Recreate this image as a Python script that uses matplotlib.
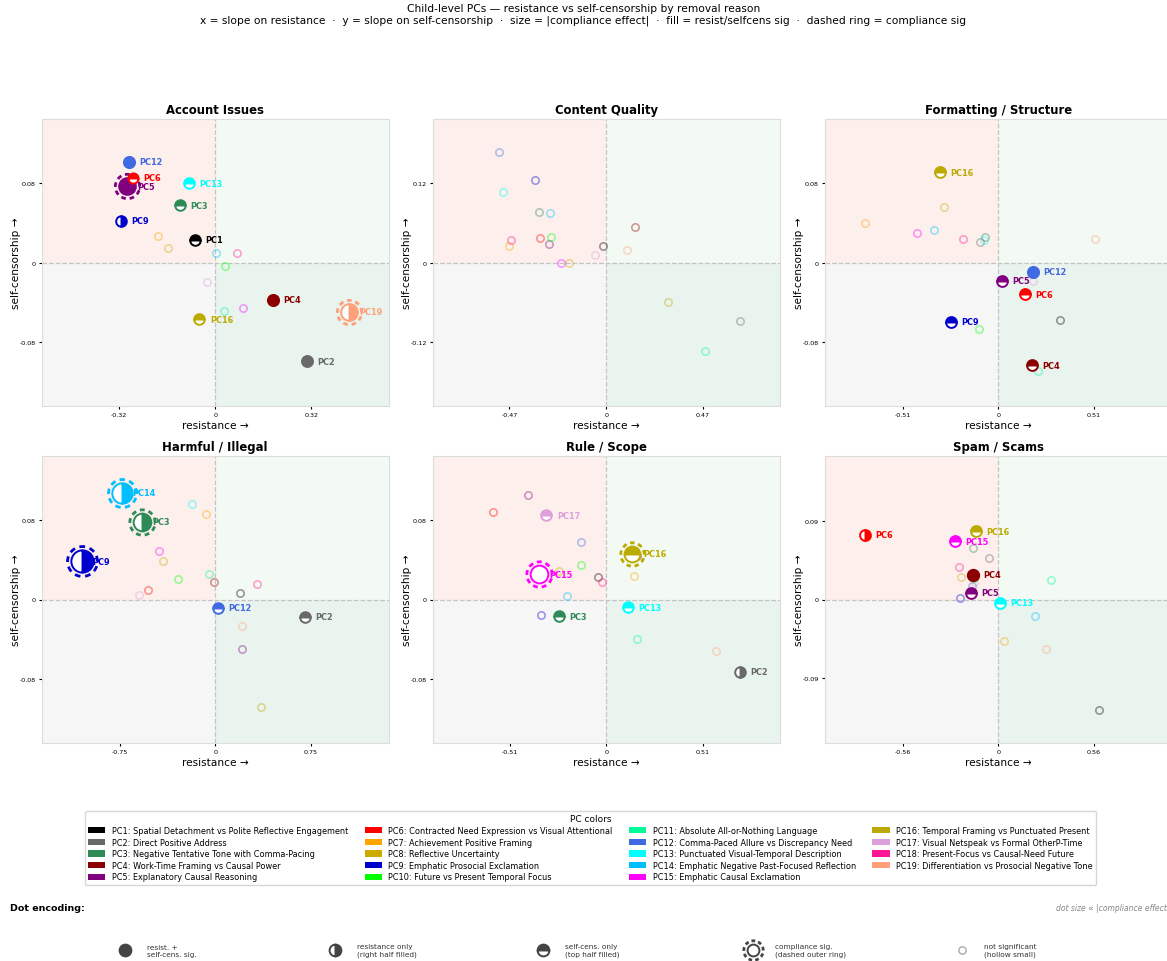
import numpy as np
import matplotlib
matplotlib.use("Agg")
import matplotlib.pyplot as plt
from matplotlib.path import Path
from matplotlib.patches import Patch

# ---- PC names / colours ----
PC_NAMES = [
    "Spatial Detachment vs Polite Reflective Engagement",
    "Direct Positive Address",
    "Negative Tentative Tone with Comma-Pacing",
    "Work-Time Framing vs Causal Power",
    "Explanatory Causal Reasoning",
    "Contracted Need Expression vs Visual Attentional",
    "Achievement Positive Framing",
    "Reflective Uncertainty",
    "Emphatic Prosocial Exclamation",
    "Future vs Present Temporal Focus",
    "Absolute All-or-Nothing Language",
    "Comma-Paced Allure vs Discrepancy Need",
    "Punctuated Visual-Temporal Description",
    "Emphatic Negative Past-Focused Reflection",
    "Emphatic Causal Exclamation",
    "Temporal Framing vs Punctuated Present",
    "Visual Netspeak vs Formal OtherP-Time",
    "Present-Focus vs Causal-Need Future",
    "Differentiation vs Prosocial Negative Tone",
]
PC_COLORS = ["#000000", "#696969", "#2E8B57", "#8B0000", "#800080",
             "#FF0000", "#FFA500", "#CCAA00", "#0000CD", "#00FF00",
             "#00FA9A", "#4169E1", "#00FFFF", "#00BFFF", "#FF00FF",
             "#BBAA00", "#DDA0DD", "#FF1493", "#FFA07A"]

REASONS = ["Account Issues", "Content Quality", "Formatting / Structure",
           "Harmful / Illegal", "Rule / Scope", "Spam / Scams"]

# ---- slopes per removal reason (PC1..PC19) ----
ACC_RES = [-0.069, 0.306, -0.119, 0.192, -0.293, -0.273, -0.191, -0.158, -0.314, 0.034,
           0.030, -0.289, -0.087, 0.003, 0.093, -0.053, -0.027, 0.071, 0.444]
ACC_SC = [0.023, -0.100, 0.058, -0.0374, 0.0771, 0.0856, 0.027, 0.0148, 0.042, -0.0037,
          -0.0488, 0.1017, 0.0798, 0.0094, -0.0458, -0.0573, -0.0195, 0.0101, -0.0495]
ACC_COMP = [0.015, 0.020, 0.015, 0.022, 0.095, 0.010, 0.01, 0.01, 0.015, 0.01,
            0.01, 0.022, 0.015, 0.01, 0.01, 0.015, 0.01, 0.01, 0.095]
ACC_RES_SIG = [2, 4, 5, 9, 12, 19]
ACC_SC_SIG = [1, 2, 3, 4, 5, 6, 12, 13, 16]
ACC_COMP_SIG = [5, 19]

CQ_RES = [-0.016, 0.647, -0.326, 0.138, -0.276, -0.323, -0.470, -0.180, -0.348, -0.266,
          0.478, -0.520, -0.499, -0.271, -0.222, 0.301, -0.055, -0.462, 0.100]
CQ_SC = [0.0243, -0.0889, 0.0758, 0.0541, 0.0273, 0.0369, 0.0243, -0.0015, 0.1243, 0.0384,
         -0.1334, 0.1667, 0.1066, 0.0748, -0.0015, -0.0601, 0.0116, 0.0339, 0.0192]
CQ_COMP = [0.01] * 19
CQ_RES_SIG = []
CQ_SC_SIG = []
CQ_COMP_SIG = []

FMT_RES = [0.333, -0.096, -0.070, 0.182, 0.021, 0.143, -0.713, -0.292, -0.253, -0.105,
           0.210, 0.187, -0.077, -0.342, -0.435, -0.310, 0.185, -0.189, 0.515]
FMT_SC = [-0.0576, 0.0205, 0.0259, -0.1037, -0.0182, -0.0323, 0.0404, 0.0563, -0.0596, -0.0667,
          -0.1098, -0.0094, 0.0226, 0.0327, 0.0296, 0.0913, -0.0189, 0.0236, 0.0239]
FMT_COMP = [0.01, 0.01, 0.01, 0.018, 0.018, 0.018, 0.01, 0.01, 0.018, 0.01,
            0.01, 0.022, 0.01, 0.01, 0.01, 0.018, 0.01, 0.01, 0.01]
FMT_RES_SIG = [12]
FMT_SC_SIG = [4, 5, 6, 9, 12, 16]
FMT_COMP_SIG = []

HRM_RES = [0.196, 0.704, -0.573, -0.010, 0.212, -0.529, -0.076, -0.411, -1.047, -0.293,
           -0.050, 0.021, -0.183, -0.733, -0.442, 0.356, -0.602, 0.330, 0.212]
HRM_SC = [0.0064, -0.0176, 0.0783, 0.0179, -0.0503, 0.0091, 0.0861, 0.0388, 0.0385, 0.0203,
          0.0253, -0.0084, 0.0962, 0.1077, 0.0489, -0.1084, 0.0044, 0.0155, -0.0270]
HRM_COMP = [0.01, 0.015, 0.108, 0.01, 0.01, 0.01, 0.01, 0.01, 0.168, 0.01,
            0.01, 0.015, 0.01, 0.143, 0.01, 0.01, 0.01, 0.01, 0.01]
HRM_RES_SIG = [3, 9, 14]
HRM_SC_SIG = [2, 12]
HRM_COMP_SIG = [3, 9, 14]

RUL_RES = [-0.042, 0.704, -0.249, 0.160, -0.415, -0.596, 0.146, -0.249, -0.346, -0.131,
           0.161, -0.134, 0.115, -0.205, -0.355, 0.138, -0.316, -0.021, 0.579]
RUL_SC = [0.0226, -0.0729, -0.0169, 0.0440, 0.106, 0.0881, 0.0240, 0.0284, -0.0152, 0.0344,
          -0.0398, 0.0577, -0.0078, 0.0037, 0.0253, 0.0462, 0.0851, 0.0176, -0.0523]
RUL_COMP = [0.01, 0.015, 0.015, 0.01, 0.01, 0.01, 0.01, 0.01, 0.01, 0.01,
            0.01, 0.01, 0.015, 0.01, 0.108, 0.083, 0.015, 0.01, 0.01]
RUL_RES_SIG = [2]
RUL_SC_SIG = [3, 13, 16, 17]
RUL_COMP_SIG = [15, 16]

SPM_RES = [0.593, -0.057, -0.147, -0.149, -0.163, -0.783, 0.031, -0.221, -0.223, -0.141,
           0.307, -0.155, 0.010, 0.217, -0.255, -0.133, -0.140, -0.233, 0.278]
SPM_SC = [-0.1265, 0.0475, 0.0592, 0.0285, 0.0076, 0.0741, -0.0471, 0.0254, 0.0019, 0.0243,
          0.0224, 0.0156, -0.0038, -0.0186, 0.0665, 0.0782, 0.0200, 0.0368, -0.0562]
SPM_COMP = [0.01, 0.01, 0.01, 0.025, 0.018, 0.018, 0.01, 0.01, 0.01, 0.01,
            0.01, 0.01, 0.018, 0.01, 0.018, 0.018, 0.01, 0.01, 0.01]
SPM_RES_SIG = [4, 6]
SPM_SC_SIG = [4, 5, 13, 15, 16]
SPM_COMP_SIG = []

PANELS = [
    (ACC_RES, ACC_SC, ACC_COMP, ACC_RES_SIG, ACC_SC_SIG, ACC_COMP_SIG),
    (CQ_RES, CQ_SC, CQ_COMP, CQ_RES_SIG, CQ_SC_SIG, CQ_COMP_SIG),
    (FMT_RES, FMT_SC, FMT_COMP, FMT_RES_SIG, FMT_SC_SIG, FMT_COMP_SIG),
    (HRM_RES, HRM_SC, HRM_COMP, HRM_RES_SIG, HRM_SC_SIG, HRM_COMP_SIG),
    (RUL_RES, RUL_SC, RUL_COMP, RUL_RES_SIG, RUL_SC_SIG, RUL_COMP_SIG),
    (SPM_RES, SPM_SC, SPM_COMP, SPM_RES_SIG, SPM_SC_SIG, SPM_COMP_SIG),
]

Q_COLORS = {"tl": "#fcefec", "tr": "#f3f9f3", "bl": "#f6f6f6", "br": "#e9f4ee"}


def ring_path(n=9, frac=0.55):
    verts, codes = [], []
    for i in range(n):
        a0 = 2 * np.pi * i / n
        t = np.linspace(a0, a0 + 2 * np.pi / n * frac, 6)
        for j, tt in enumerate(t):
            verts.append((np.cos(tt), np.sin(tt)))
            codes.append(Path.MOVETO if j == 0 else Path.LINETO)
    return Path(verts, codes)


RING = ring_path()


def size_of(comp):
    return 6.8 + 55 * comp


def draw_dot(ax, x, y, color, kind, ms, ring=False, z=4):
    if kind == "ns":
        ax.plot(x, y, "o", ms=5.3, mfc="none", mec=color, mew=1.2, alpha=0.38, zorder=2)
        return
    kw = dict(ms=ms, mec=color, mew=1.4, zorder=z)
    if kind == "both":
        ax.plot(x, y, "o", mfc=color, **kw)
    elif kind == "res":
        ax.plot(x, y, "o", fillstyle="right", mfc=color, markerfacecoloralt="white", **kw)
    elif kind == "sc":
        ax.plot(x, y, "o", fillstyle="top", mfc=color, markerfacecoloralt="white", **kw)
    else:
        ax.plot(x, y, "o", mfc="white", **kw)
    if ring:
        ax.plot(x, y, marker=RING, ms=ms + 5.5, mfc="none", mec=color, mew=2.0,
                ls="none", zorder=z)


fig = plt.figure(figsize=(11.67, 9.62), dpi=100)
W, H = 1167.0, 962.0

col_left = [42, 433, 825]
row_top = [120, 457]
aw, ah = 346.5, 287

fig.suptitle("Child-level PCs \u2014 resistance vs self-censorship by removal reason\n"
             "x = slope on resistance  \u00b7  y = slope on self-censorship  \u00b7  size = |compliance effect|"
             "  \u00b7  fill = resist/selfcens sig  \u00b7  dashed ring = compliance sig",
             y=1 - 4 / H, va="top", fontsize=7.7, linespacing=1.15)

for k, (reason, panel) in enumerate(zip(REASONS, PANELS)):
    r, c = divmod(k, 3)
    ax = fig.add_axes([col_left[c] / W, 1 - (row_top[r] + ah) / H, aw / W, ah / H])
    xs, ys, comp, rsig, ssig, csig = panel
    mx = max(abs(v) for v in xs)
    my = max(max(abs(v) for v in ys), 0.1115)
    lx, ly = 1.3 * mx, 1.3 * my
    tx, ty = round(0.72 * mx, 2), round(0.72 * my, 2)

    ax.fill_between([-lx, 0], 0, ly, color=Q_COLORS["tl"], lw=0, zorder=0)
    ax.fill_between([0, lx], 0, ly, color=Q_COLORS["tr"], lw=0, zorder=0)
    ax.fill_between([-lx, 0], -ly, 0, color=Q_COLORS["bl"], lw=0, zorder=0)
    ax.fill_between([0, lx], -ly, 0, color=Q_COLORS["br"], lw=0, zorder=0)
    ax.axhline(0, color="#c4c4c4", ls="--", lw=0.9, zorder=1)
    ax.axvline(0, color="#c4c4c4", ls="--", lw=0.9, zorder=1)

    for i in range(19):
        pc = i + 1
        res, sc, cm = pc in rsig, pc in ssig, pc in csig
        if res and sc:
            kind = "both"
        elif res:
            kind = "res"
        elif sc:
            kind = "sc"
        elif cm:
            kind = "cmp"
        else:
            kind = "ns"
        ms = size_of(comp[i])
        draw_dot(ax, xs[i], ys[i], PC_COLORS[i], kind, ms, ring=cm)
        if kind != "ns":
            ax.annotate(f"PC{pc}", (xs[i], ys[i]), xytext=(7.5, 0),
                        textcoords="offset points", ha="left", va="center",
                        fontsize=5.9, fontweight="bold", color=PC_COLORS[i], zorder=6)

    ax.set_xlim(-lx, lx)
    ax.set_ylim(-ly, ly)
    ax.set_xticks([-tx, 0, tx])
    ax.set_xticklabels([f"{-tx:.2f}", "0", f"{tx:.2f}"])
    ax.set_yticks([-ty, 0, ty])
    ax.set_yticklabels([f"{-ty:.2f}", "0", f"{ty:.2f}"])
    ax.tick_params(labelsize=4.6, length=2.5, pad=2)
    for s in ax.spines.values():
        s.set_color("#dddddd")
    ax.set_xlabel("resistance \u2192", fontsize=7.6, labelpad=2)
    ax.set_ylabel("self-censorship \u2192", fontsize=7.6)
    ax.yaxis.set_label_coords(-21 / aw, 0.5)
    ax.set_title(reason, fontsize=8.4, fontweight="bold", pad=4)

handles = [Patch(facecolor=col, label=f"PC{i + 1}: {name}")
           for i, (name, col) in enumerate(zip(PC_NAMES, PC_COLORS))]
fig.legend(handles=handles, loc="upper center", bbox_to_anchor=(0.506, 1 - 808 / H),
           ncol=4, fontsize=5.9, title="PC colors", title_fontsize=6.5,
           handlelength=2.1, handleheight=0.8, labelspacing=0.32, columnspacing=2.0,
           borderpad=0.4)

# ---- dot encoding key ----
fig.text(10 / W, 1 - 909 / H, "Dot encoding:", fontsize=6.8, fontweight="bold", va="center")
fig.text(1056 / W, 1 - 909 / H, "dot size \u221d |compliance effect|", fontsize=5.5,
         style="italic", color="#888888", va="center")

kax = fig.add_axes([0, 0, 1, 60 / H])
kax.set_xlim(0, W)
kax.set_ylim(H, H - 60)
kax.axis("off")
KEY_X = [125, 335, 543, 753, 962]
KEY_KIND = ["both", "res", "sc", "cmp", "ns"]
KEY_TEXT = ["resist. +\nself-cens. sig.", "resistance only\n(right half filled)",
            "self-cens. only\n(top half filled)", "compliance sig.\n(dashed outer ring)",
            "not significant\n(hollow small)"]
for kx, kind, txt in zip(KEY_X, KEY_KIND, KEY_TEXT):
    if kind == "ns":
        kax.plot(kx, 951, "o", ms=5.3, mfc="none", mec="#aaaaaa", mew=1.0)
    else:
        draw_dot(kax, kx, 951, "#444444", kind, 8.5, ring=(kind == "cmp"))
    kax.text(kx + 22, 951, txt, fontsize=5.3, color="#333333", va="center", ha="left")

fig.savefig("out.png", dpi=100)
